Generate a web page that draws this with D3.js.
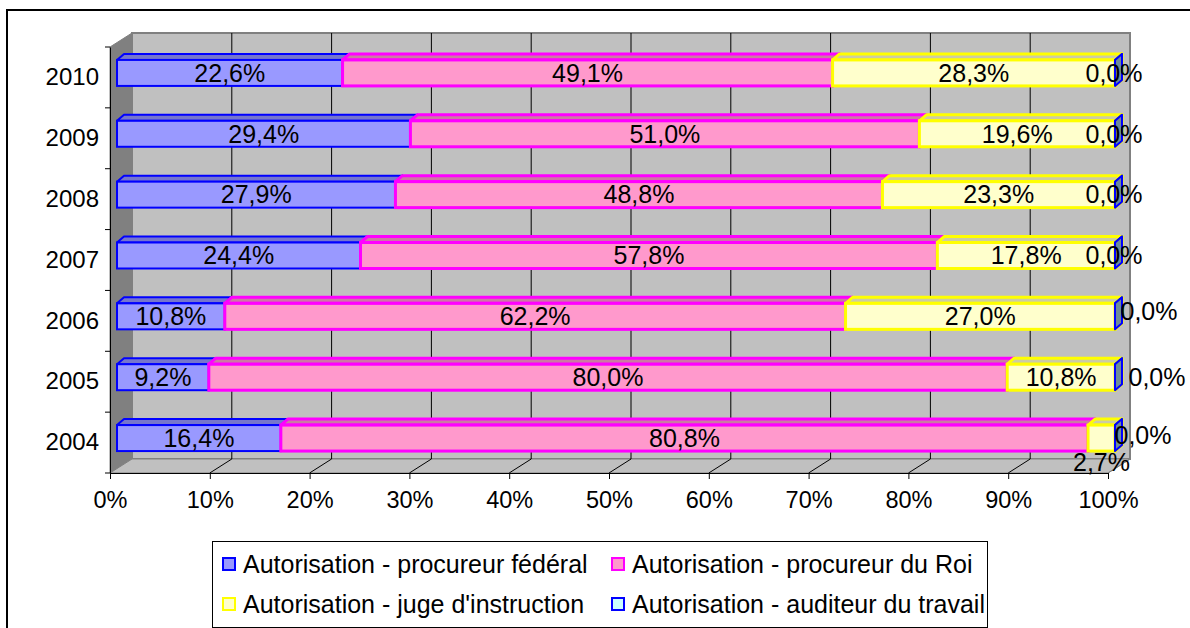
<!DOCTYPE html>
<html><head><meta charset="utf-8">
<script src="https://cdn.jsdelivr.net/npm/d3@7"></script>
<style>
html,body{margin:0;padding:0;background:#fff;}
svg text{font-family:"Liberation Sans",Arial,sans-serif;fill:#000;}
</style></head>
<body><svg id="chart" width="1190" height="628"></svg>
<script>
// ---- data ----
const years = ['2004','2005','2006','2007','2008','2009','2010'];
const federal  = [16.4, 9.2, 10.8, 24.4, 27.9, 29.4, 22.6];
const roi      = [80.8, 80.0, 62.2, 57.8, 48.8, 51.0, 49.1];
const juge     = [2.7, 10.8, 27.0, 17.8, 23.3, 19.6, 28.3];
const auditeur = [0.0, 0.0, 0.0, 0.0, 0.0, 0.0, 0.0];
const seriesNames = ['Autorisation - procureur fédéral','Autorisation - procureur du Roi',"Autorisation - juge d'instruction",'Autorisation - auditeur du travail'];
const xTicks = [0,10,20,30,40,50,60,70,80,90,100];

// ---- layout / style ----
const seriesValues = [federal, roi, juge, auditeur];
const fills   = ['#9999FF','#FF99CC','#FFFFCC','#CCFFFF'];
const tops    = ['#7676CC','#CC7AA3','#CCCCA3','#7A9999'];
const sides   = ['#6A6AB8','#B86E93','#B8B893','#6E8C99'];
const strokes = ['#0000FF','#FF00FF','#FFFF00','#0000FF'];
const strokeW = [2,3,3,2];
// label nudges (px) for labels Excel moved off their segment
const labelNudge = {
  '2004': {2:[0,24], 3:[28,-3]},
  '2005': {3:[42,0]},
  '2006': {3:[34,-5]},
  '2007': {3:[-1,0]}, '2008': {3:[-1,0]}, '2009': {3:[-1,0]}, '2010': {3:[-1,0]}
};

const svg = d3.select('#chart');
const X0 = 110, X1 = 1108, Y0 = 47, Y1 = 473;
const WDX = 22, WDY = -14;      // wall depth
const BOX = 7, BOY = -4.5;      // bar front offset
const BDX = 7, BDY = -6;        // bar depth

const x = d3.scaleLinear().domain([0,100]).range([X0, X1]);
const y = d3.scaleBand().domain(years.slice().reverse()).range([Y0, Y1])
  .paddingInner(0.573).paddingOuter(0.2865);

// outer border
svg.append('rect').attr('x',7).attr('y',10).attr('width',1300).attr('height',800)
  .attr('fill','#fff').attr('stroke','#000').attr('stroke-width',2);

// walls
svg.append('polygon')
  .attr('points',[[X0+WDX,Y0+WDY],[X1+WDX,Y0+WDY],[X1+WDX,Y1+WDY],[X0+WDX,Y1+WDY]].join(' '))
  .attr('fill','#C0C0C0').attr('stroke','#808080').attr('stroke-width',2);
svg.append('polygon')
  .attr('points',[[X0,Y0],[X0+WDX,Y0+WDY],[X0+WDX,Y1+WDY],[X0,Y1]].join(' '))
  .attr('fill','#808080').attr('stroke','#808080').attr('stroke-width',1);
svg.append('polygon')
  .attr('points',[[X0,Y1],[X0+WDX,Y1+WDY],[X1+WDX,Y1+WDY],[X1,Y1]].join(' '))
  .attr('fill','#C0C0C0').attr('stroke','#808080').attr('stroke-width',1);

// gridlines on back wall and floor
const grid = svg.append('g');
xTicks.forEach(t => {
  const gx = x(t);
  if (t > 0 && t < 100) {
    grid.append('line').attr('x1',gx+WDX).attr('x2',gx+WDX)
      .attr('y1',Y0+WDY).attr('y2',Y1+WDY).attr('stroke','#000').attr('stroke-width',1);
  }
  if (t > 0) {
    grid.append('line').attr('x1',gx).attr('x2',gx+WDX)
      .attr('y1',Y1).attr('y2',Y1+WDY).attr('stroke', t===100 ? '#808080' : '#000').attr('stroke-width',1);
  }
});

// axes
const xAxis = svg.append('g').attr('transform',`translate(0,${Y1})`)
  .call(d3.axisBottom(x).tickValues(xTicks).tickFormat(d => d+'%').tickSize(6).tickPadding(12).tickSizeOuter(0));
xAxis.selectAll('text').attr('font-size',23.5).style('font-family','"Liberation Sans",Arial,sans-serif');
xAxis.selectAll('line,path').attr('stroke','#000');

const yAxis = svg.append('g').attr('transform',`translate(${X0},0)`)
  .call(d3.axisLeft(y).tickSize(0).tickPadding(11).tickSizeOuter(0));
yAxis.selectAll('text').attr('font-size',24).style('font-family','"Liberation Sans",Arial,sans-serif');
yAxis.select('path').attr('stroke','#000');
// tick marks at band boundaries
const yb = d3.scaleLinear().domain([0, years.length]).range([Y1, Y0]);
d3.range(years.length+1).forEach(i => {
  svg.append('line').attr('x1',X0-5).attr('x2',X0).attr('y1',yb(i)).attr('y2',yb(i)).attr('stroke','#000');
});

// bars
const bars = svg.append('g');
const labels = [];
years.forEach((yr, i) => {
  const total = d3.sum(seriesValues, s => s[i]);
  let cum = 0;
  const top = y(yr) + BOY, bot = y(yr) + y.bandwidth() + BOY;
  seriesValues.forEach((s, k) => {
    const v = s[i];
    const xa = x(cum/total*100) + BOX, xb = x((cum+v)/total*100) + BOX;
    cum += v;
    const g = bars.append('g');
    g.append('polygon').attr('points',[[xa,top],[xa+BDX,top+BDY],[xb+BDX,top+BDY],[xb,top]].join(' '))
      .attr('fill',tops[k]).attr('stroke',strokes[k]).attr('stroke-width',strokeW[k]).attr('stroke-linejoin','round');
    g.append('polygon').attr('points',[[xb,top],[xb+BDX,top+BDY],[xb+BDX,bot+BDY],[xb,bot]].join(' '))
      .attr('fill',sides[k]).attr('stroke',strokes[k]).attr('stroke-width',strokeW[k]).attr('stroke-linejoin','round');
    g.append('rect').attr('x',xa).attr('y',top).attr('width',xb-xa).attr('height',bot-top)
      .attr('fill',fills[k]).attr('stroke',strokes[k]).attr('stroke-width',strokeW[k]);
    const n = (labelNudge[yr] && labelNudge[yr][k]) || [0,0];
    labels.push({x:(xa+xb)/2 + n[0], y:(top+bot)/2 + n[1], t:v.toFixed(1).replace('.',',')+'%'});
  });
});
svg.append('g').selectAll('text').data(labels).join('text')
  .attr('x',d=>d.x).attr('y',d=>d.y).attr('dy','0.35em').attr('text-anchor','middle')
  .attr('font-size',25).text(d=>d.t);

// legend
const leg = svg.append('g');
leg.append('rect').attr('x',212.5).attr('y',541.5).attr('width',775).attr('height',86)
  .attr('fill','#fff').attr('stroke','#000').attr('stroke-width',1);
const legPos = [[222,564],[611,564],[222,604],[611,604]];
seriesNames.forEach((name,k) => {
  const [lx,ly] = legPos[k];
  leg.append('rect').attr('x',lx+1).attr('y',ly-6).attr('width',12).attr('height',12)
    .attr('fill',fills[k]).attr('stroke',strokes[k]).attr('stroke-width',2);
  leg.append('text').attr('x',lx+21).attr('y',ly).attr('dy','0.35em').attr('font-size',25).text(name);
});
</script></body></html>
